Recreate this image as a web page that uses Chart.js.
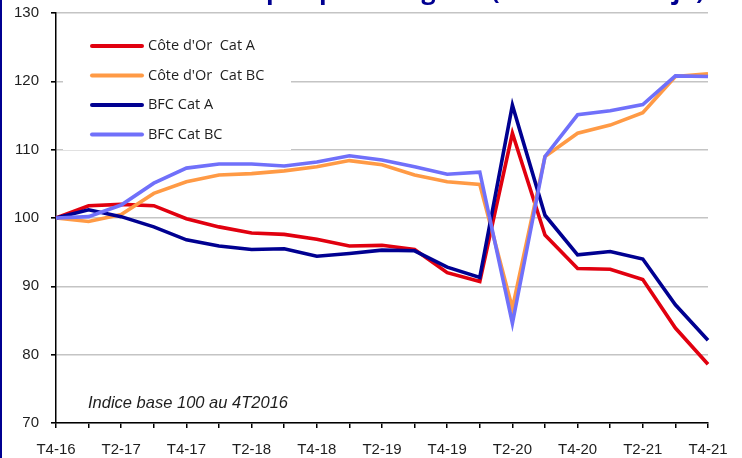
<!DOCTYPE html>
<html>
<head>
<meta charset="utf-8">
<script src="https://cdn.jsdelivr.net/npm/chart.js@4.4.1/dist/chart.umd.min.js"></script>
<style>
  html, body { margin: 0; padding: 0; background: #fff; overflow: hidden; }
  #wrap { position: relative; width: 742px; height: 458px; }
  #title {
    position: absolute; left: 0; width: 742px; top: -26px;
    text-align: center; white-space: nowrap;
    font: bold 25px 'Open Sans', sans-serif; line-height: 30px; color: #000091;
  }
  #edge { position: absolute; left: 0; top: 0; width: 2px; height: 458px; background: #000091; }
</style>
</head>
<body>
<div id="wrap">
  <canvas id="chart" width="742" height="458"></canvas>
  <div id="title">Demandeurs d'emploi par catégorie (données cvs-cjo)</div>
  <div id="edge"></div>
</div>
<script>
/* ── data ── */
const quarters = ['T4-16','T1-17','T2-17','T3-17','T4-17','T1-18','T2-18','T3-18','T4-18','T1-19',
                  'T2-19','T3-19','T4-19','T1-20','T2-20','T3-20','T4-20','T1-21','T2-21','T3-21','T4-21'];

const coteOrA  = [100, 101.8, 102.0, 101.8, 99.9, 98.7, 97.8, 97.6, 96.9, 95.9, 96.0,
                  95.4, 92.0, 90.7, 112.4, 97.5, 92.6, 92.5, 91.0, 83.9, 78.6];
const coteOrBC = [100, 99.5, 100.5, 103.6, 105.3, 106.3, 106.5, 106.9, 107.5, 108.4, 107.8,
                  106.3, 105.3, 104.9, 86.8, 109.0, 112.4, 113.6, 115.4, 120.7, 121.1];
const bfcA     = [100, 101.2, 100.2, 98.7, 96.8, 95.9, 95.4, 95.5, 94.4, 94.8, 95.3,
                  95.2, 92.8, 91.3, 116.5, 100.4, 94.6, 95.1, 94.0, 87.3, 82.1];
const bfcBC    = [100, 100.2, 101.9, 105.1, 107.3, 107.9, 107.9, 107.6, 108.2, 109.1, 108.5,
                  107.5, 106.4, 106.7, 84.6, 109.0, 115.1, 115.7, 116.6, 120.8, 120.7];

const seriesNames = ["Côte d'Or  Cat A", "Côte d'Or  Cat BC", 'BFC Cat A', 'BFC Cat BC'];
const yTicks = [70, 80, 90, 100, 110, 120, 130];
const note = 'Indice base 100 au 4T2016';

const colors = ['#e1000f', '#ff9a45', '#000091', '#7070fa'];
const axisFont = { family: "'Liberation Sans', Arial, sans-serif", size: 15 };

/* legend box + note, drawn inside the plot */
const insideLegend = {
    id: 'insideLegend',
    beforeDatasetsDraw(chart) {
        const { ctx } = chart;
        ctx.save();
        ctx.fillStyle = '#fff';
        ctx.fillRect(63, 24, 228, 126);
        chart.data.datasets.forEach((ds, i) => {
            const y = 46 + i * 29.5;
            ctx.strokeStyle = ds.borderColor;
            ctx.lineWidth = 4;
            ctx.lineCap = 'round';
            ctx.beginPath();
            ctx.moveTo(92, y);
            ctx.lineTo(142, y);
            ctx.stroke();
            ctx.fillStyle = '#1e1e1e';
            ctx.font = "14.5px 'Open Sans', sans-serif";
            ctx.textBaseline = 'middle';
            ctx.fillText(ds.label, 148, y);
        });
        ctx.font = "italic 16.5px 'Liberation Sans', Arial, sans-serif";
        ctx.fillStyle = '#1e1e1e';
        ctx.textBaseline = 'middle';
        ctx.fillText(note, 88, 403);
        ctx.restore();
    }
};

const datasets = [coteOrA, coteOrBC, bfcA, bfcBC].map((values, i) => ({
    label:       seriesNames[i],
    data:        values,
    borderColor: colors[i],
    borderWidth: 3.6,
    pointRadius: 0,
    tension:     0,
    order:       4 - i,
}));

new Chart(document.getElementById('chart').getContext('2d'), {
    type: 'line',
    plugins: [insideLegend],
    data: { labels: quarters, datasets },
    options: {
        responsive: false,
        animation: false,
        layout: { padding: { top: 13, right: 34, left: 0, bottom: 0 } },
        plugins: { legend: { display: false }, tooltip: { enabled: false } },
        scales: {
            x: {
                offset: false,
                afterFit: s => { s.height = 35; s.paddingLeft = 0; s.paddingRight = 0; },
                border: { display: true, color: '#000', width: 1.5 },
                grid: { drawOnChartArea: false, drawTicks: true, tickLength: 5, tickColor: '#000', lineWidth: 1.5 },
                ticks: {
                    autoSkip: false, maxRotation: 0, padding: 13,
                    color: '#1e1e1e', font: axisFont,
                    callback: (v, i) => (i % 2 === 0 ? quarters[i] : ''),
                },
            },
            y: {
                min: 70, max: 130,
                afterFit: s => { s.width = 56; s.paddingTop = 0; s.paddingBottom = 0; },
                afterBuildTicks: s => { s.ticks = yTicks.map(v => ({ value: v })); },
                border: { display: true, color: '#000', width: 1.5 },
                grid: { color: '#c4c4c4', lineWidth: 1.6, tickLength: 5, tickColor: '#000' },
                ticks: { padding: 12, color: '#1e1e1e', font: axisFont },
            },
        },
    },
});
</script>
</body>
</html>
